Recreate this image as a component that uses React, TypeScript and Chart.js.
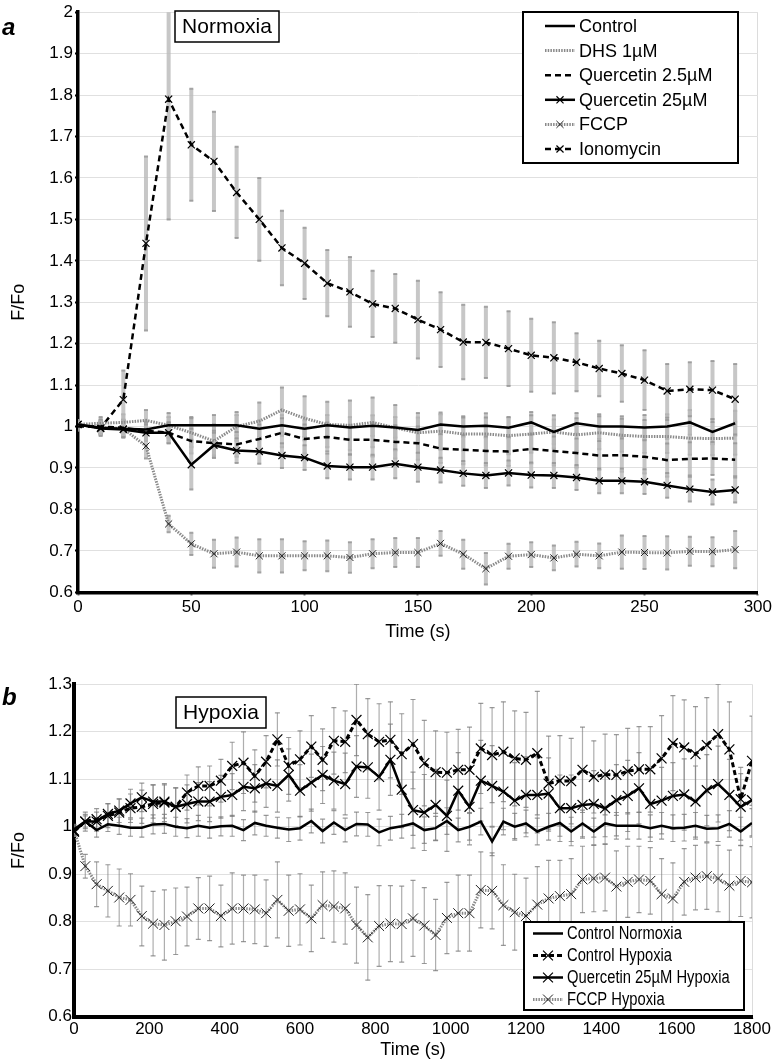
import React, { useEffect, useRef } from 'react';
import { Chart, registerables } from 'chart.js';

Chart.register(...registerables);

const FONT = "'Liberation Sans', Arial, sans-serif";

// ---------- Panel a (Normoxia) ----------
const timeA = [0, 10, 20, 30, 40, 50, 60, 70, 80, 90, 100, 110, 120, 130, 140, 150, 160, 170, 180, 190, 200, 210, 220, 230, 240, 250, 260, 270, 280, 290];
const controlA = [1.005, 0.997, 0.995, 0.993, 1.003, 1.003, 1.003, 1.003, 0.995, 1.003, 0.995, 1.003, 0.998, 1.002, 0.998, 0.992, 1.005, 1.0, 1.002, 0.997, 1.01, 0.987, 1.008, 1.0, 1.0, 0.998, 1.0, 1.01, 0.987, 1.008];
const dhsA = [1.005, 1.008, 1.01, 1.015, 1.003, 0.985, 0.965, 1.0, 1.013, 1.04, 1.02, 1.005, 1.003, 1.01, 0.997, 0.985, 0.989, 0.982, 0.982, 0.978, 0.982, 0.987, 0.98, 0.985, 0.979, 0.976, 0.976, 0.972, 0.971, 0.972];
const querc2A = [1.0, 1.0, 0.997, 0.99, 0.985, 0.965, 0.96, 0.957, 0.97, 0.985, 0.97, 0.975, 0.968, 0.968, 0.963, 0.96, 0.947, 0.944, 0.941, 0.94, 0.946, 0.941, 0.936, 0.93, 0.931, 0.927, 0.919, 0.922, 0.923, 0.92];
const querc25A = [1.005, 0.995, 0.993, 0.985, 0.985, 0.908, 0.955, 0.942, 0.94, 0.93, 0.925, 0.905, 0.902, 0.902, 0.91, 0.902, 0.895, 0.887, 0.882, 0.888, 0.883, 0.882, 0.877, 0.869, 0.869, 0.867, 0.858, 0.849, 0.842, 0.847];
const fccpA = [1.005, 0.997, 0.995, 0.953, 0.765, 0.717, 0.693, 0.697, 0.688, 0.688, 0.688, 0.688, 0.684, 0.693, 0.696, 0.696, 0.718, 0.692, 0.657, 0.687, 0.691, 0.683, 0.692, 0.688, 0.697, 0.696, 0.695, 0.699, 0.698, 0.703];
const ionoA = [1.005, 0.997, 1.065, 1.442, 1.79, 1.68, 1.64, 1.565, 1.5, 1.431, 1.394, 1.346, 1.325, 1.296, 1.285, 1.258, 1.234, 1.204, 1.203, 1.188, 1.172, 1.166, 1.155, 1.14, 1.128, 1.112, 1.086, 1.09, 1.088, 1.066];

const controlErrA = [0.01, 0.015, 0.02, 0.02, 0.02, 0.02, 0.025, 0.025, 0.02, 0.025, 0.02, 0.025, 0.025, 0.025, 0.025, 0.03, 0.025, 0.025, 0.03, 0.025, 0.025, 0.03, 0.025, 0.03, 0.025, 0.03, 0.03, 0.03, 0.03, 0.03];
const dhsErrA = [0.01, 0.015, 0.02, 0.025, 0.03, 0.035, 0.04, 0.035, 0.045, 0.054, 0.053, 0.055, 0.06, 0.06, 0.055, 0.048, 0.045, 0.04, 0.04, 0.045, 0.045, 0.04, 0.04, 0.04, 0.04, 0.04, 0.04, 0.04, 0.04, 0.04];
const querc2ErrA = [0.01, 0.015, 0.02, 0.02, 0.025, 0.03, 0.03, 0.03, 0.035, 0.035, 0.035, 0.035, 0.035, 0.04, 0.04, 0.04, 0.035, 0.035, 0.035, 0.035, 0.035, 0.035, 0.035, 0.035, 0.04, 0.04, 0.04, 0.04, 0.04, 0.04];
const querc25ErrA = [0.01, 0.015, 0.02, 0.02, 0.025, 0.06, 0.03, 0.03, 0.03, 0.03, 0.03, 0.03, 0.03, 0.03, 0.035, 0.035, 0.03, 0.03, 0.03, 0.03, 0.03, 0.03, 0.03, 0.03, 0.03, 0.03, 0.03, 0.03, 0.03, 0.03];
const fccpErrA = [0.01, 0.015, 0.02, 0.03, 0.02, 0.027, 0.034, 0.035, 0.04, 0.04, 0.035, 0.037, 0.037, 0.035, 0.035, 0.035, 0.03, 0.035, 0.038, 0.03, 0.03, 0.03, 0.03, 0.03, 0.04, 0.04, 0.04, 0.035, 0.035, 0.045];
const ionoErrA = [0.01, 0.02, 0.07, 0.21, 0.29, 0.135, 0.12, 0.11, 0.1, 0.09, 0.086, 0.08, 0.084, 0.08, 0.083, 0.094, 0.09, 0.09, 0.086, 0.09, 0.088, 0.086, 0.07, 0.067, 0.068, 0.072, 0.065, 0.065, 0.07, 0.085];

const labelsA = ['Control', 'DHS 1µM', 'Quercetin 2.5µM', 'Quercetin 25µM', 'FCCP', 'Ionomycin'];

// ---------- Panel b (Hypoxia) ----------
const timeB = [
  0, 30, 60, 90, 120, 150, 180, 210, 240, 270,
  300, 330, 360, 390, 420, 450, 480, 510, 540, 570,
  600, 630, 660, 690, 720, 750, 780, 810, 840, 870,
  900, 930, 960, 990, 1020, 1050, 1080, 1110, 1140, 1170,
  1200, 1230, 1260, 1290, 1320, 1350, 1380, 1410, 1440, 1470,
  1500, 1530, 1560, 1590, 1620, 1650, 1680, 1710, 1740, 1770,
  1800,
];
const controlNormB = [
  0.995, 1.011, 0.993, 1.005, 1.002, 0.998, 0.998, 1.005, 1.006, 1.0,
  0.997, 1.002, 0.998, 1.001, 1.002, 0.993, 1.008, 1.002, 0.998, 0.994,
  0.997, 1.012, 0.991, 1.009, 0.993, 1.006, 1.005, 0.988, 0.997, 1.001,
  1.007, 0.993, 0.997, 1.012, 0.993, 1.0, 1.011, 0.969, 1.011, 1.0,
  1.007, 0.99, 1.0, 1.008, 0.99, 1.007, 0.99, 1.007, 1.002, 1.002,
  1.002, 0.997, 1.002, 0.997, 0.998, 1.002, 0.996, 0.997, 1.006, 0.99,
  1.008,
];
const controlHypB = [
  0.99, 1.011, 1.016, 1.023, 1.03, 1.039, 1.042, 1.048, 1.051, 1.042,
  1.072, 1.086, 1.086, 1.097, 1.128, 1.135, 1.107, 1.137, 1.184, 1.128,
  1.142, 1.169, 1.141, 1.181, 1.179, 1.225, 1.195, 1.179, 1.183, 1.153,
  1.174, 1.134, 1.115, 1.114, 1.12, 1.12, 1.165, 1.151, 1.158, 1.144,
  1.141, 1.155, 1.091, 1.097, 1.096, 1.12, 1.105, 1.11, 1.109, 1.117,
  1.121, 1.121, 1.144, 1.176, 1.167, 1.153, 1.172, 1.195, 1.163, 1.058,
  1.139,
];
const querc25HypB = [
  0.99, 1.011, 1.011, 1.027, 1.034, 1.049, 1.062, 1.053, 1.053, 1.042,
  1.048, 1.053, 1.053, 1.063, 1.067, 1.084, 1.081, 1.091, 1.086, 1.109,
  1.076, 1.093, 1.109, 1.097, 1.09, 1.127, 1.125, 1.105, 1.141, 1.078,
  1.035, 1.03, 1.046, 1.023, 1.076, 1.042, 1.097, 1.086, 1.074, 1.055,
  1.067, 1.067, 1.07, 1.039, 1.039, 1.046, 1.048, 1.039, 1.056, 1.065,
  1.081, 1.048, 1.055, 1.065, 1.068, 1.053, 1.077, 1.09, 1.067, 1.042,
  1.056,
];
const fccpHypB = [
  0.993, 0.917, 0.879, 0.865, 0.851, 0.846, 0.812, 0.796, 0.793, 0.801,
  0.811, 0.828, 0.828, 0.812, 0.828, 0.828, 0.826, 0.818, 0.846, 0.823,
  0.826, 0.807, 0.835, 0.832, 0.828, 0.793, 0.767, 0.791, 0.796, 0.795,
  0.807, 0.792, 0.772, 0.808, 0.818, 0.818, 0.867, 0.865, 0.835, 0.82,
  0.812, 0.836, 0.849, 0.854, 0.858, 0.889, 0.891, 0.893, 0.874, 0.884,
  0.889, 0.886, 0.858, 0.849, 0.884, 0.893, 0.896, 0.891, 0.876, 0.886,
  0.883,
];

const controlNormErrB = [
  0.01, 0.012, 0.015, 0.015, 0.018, 0.018, 0.02, 0.02, 0.02, 0.02,
  0.02, 0.022, 0.022, 0.02, 0.022, 0.022, 0.025, 0.022, 0.022, 0.025,
  0.025, 0.025, 0.025, 0.025, 0.025, 0.025, 0.025, 0.028, 0.025, 0.025,
  0.025, 0.028, 0.025, 0.028, 0.025, 0.028, 0.028, 0.03, 0.028, 0.028,
  0.028, 0.028, 0.028, 0.028, 0.03, 0.028, 0.028, 0.028, 0.028, 0.028,
  0.028, 0.028, 0.028, 0.028, 0.028, 0.028, 0.028, 0.028, 0.028, 0.03,
  0.03,
];
const controlHypErrB = [
  0.01, 0.02, 0.022, 0.025, 0.028, 0.03, 0.035, 0.04, 0.04, 0.04,
  0.037, 0.04, 0.042, 0.045, 0.05, 0.065, 0.055, 0.055, 0.056, 0.06,
  0.06, 0.065, 0.065, 0.07, 0.065, 0.075, 0.075, 0.08, 0.08, 0.085,
  0.094, 0.09, 0.087, 0.085, 0.085, 0.09, 0.095, 0.1, 0.105, 0.1,
  0.1, 0.13, 0.1, 0.095, 0.09, 0.09, 0.076, 0.085, 0.085, 0.09,
  0.09, 0.09, 0.09, 0.1, 0.1, 0.1, 0.1, 0.105, 0.1, 0.067,
  0.094,
];
const querc25HypErrB = [
  0.01, 0.015, 0.02, 0.022, 0.025, 0.03, 0.03, 0.035, 0.035, 0.04,
  0.04, 0.04, 0.042, 0.045, 0.045, 0.05, 0.05, 0.05, 0.055, 0.055,
  0.055, 0.06, 0.06, 0.06, 0.065, 0.065, 0.065, 0.07, 0.075, 0.08,
  0.08, 0.08, 0.075, 0.075, 0.08, 0.08, 0.085, 0.085, 0.08, 0.08,
  0.08, 0.08, 0.075, 0.07, 0.07, 0.07, 0.07, 0.075, 0.075, 0.075,
  0.075, 0.07, 0.07, 0.07, 0.075, 0.075, 0.075, 0.08, 0.075, 0.07,
  0.075,
];
const fccpHypErrB = [
  0.01, 0.025, 0.047, 0.055, 0.06, 0.055, 0.063, 0.068, 0.074, 0.07,
  0.062, 0.065, 0.068, 0.065, 0.075, 0.07, 0.072, 0.07, 0.08, 0.075,
  0.075, 0.07, 0.07, 0.075, 0.075, 0.08, 0.09, 0.085, 0.08, 0.08,
  0.08, 0.08, 0.075, 0.075, 0.08, 0.08, 0.08, 0.08, 0.085, 0.08,
  0.08, 0.08, 0.08, 0.075, 0.075, 0.07, 0.07, 0.07, 0.075, 0.075,
  0.07, 0.07, 0.075, 0.075, 0.07, 0.068, 0.07, 0.07, 0.075, 0.075,
  0.075,
];

const labelsB = ['Control Normoxia', 'Control Hypoxia', 'Quercetin 25µM Hypoxia', 'FCCP Hypoxia'];

const xTicksA = { min: 0, max: 300, step: 50 };
const yTicksA = { min: 0.6, max: 2, step: 0.1 };
const xTicksB = { min: 0, max: 1800, step: 200 };
const yTicksB = { min: 0.6, max: 1.3, step: 0.1 };

const toXY = (xs: number[], ys: number[]) => xs.map((x, i) => ({ x, y: ys[i] }));

// ---------- plugins ----------
const errorBarPlugin = {
  id: 'errorBars',
  beforeDatasetsDraw(chart: any, _args: any, opts: any) {
    const { ctx, chartArea } = chart;
    const xs = chart.scales.x;
    const ys = chart.scales.y;
    ctx.save();
    ctx.beginPath();
    ctx.rect(chartArea.left, chartArea.top, chartArea.right - chartArea.left, chartArea.bottom - chartArea.top);
    ctx.clip();
    chart.data.datasets.forEach((ds: any) => {
      if (!ds.errors) return;
      ds.data.forEach((p: any, i: number) => {
        const e = ds.errors[i];
        if (!e) return;
        const x = xs.getPixelForValue(p.x);
        const y1 = ys.getPixelForValue(p.y + e);
        const y2 = ys.getPixelForValue(p.y - e);
        ctx.strokeStyle = opts.color;
        ctx.lineWidth = opts.width;
        ctx.beginPath();
        ctx.moveTo(x, y1);
        ctx.lineTo(x, y2);
        ctx.stroke();
        ctx.strokeStyle = opts.capColor;
        ctx.lineWidth = opts.capThickness;
        [y1, y2].forEach((y) => {
          ctx.beginPath();
          ctx.moveTo(x - opts.capWidth / 2, y);
          ctx.lineTo(x + opts.capWidth / 2, y);
          ctx.stroke();
        });
      });
    });
    ctx.restore();
  },
};

function drawCross(ctx: CanvasRenderingContext2D, x: number, y: number, r: number) {
  const d = r * Math.SQRT1_2;
  ctx.beginPath();
  ctx.moveTo(x - d, y - d);
  ctx.lineTo(x + d, y + d);
  ctx.moveTo(x + d, y - d);
  ctx.lineTo(x - d, y + d);
  ctx.stroke();
}

const annotPlugin = {
  id: 'annot',
  afterDraw(chart: any, _args: any, o: any) {
    const ctx: CanvasRenderingContext2D = chart.ctx;
    ctx.save();
    // panel letter
    ctx.fillStyle = '#000';
    ctx.font = `italic bold ${o.letter.size}px ${FONT}`;
    ctx.textAlign = 'left';
    ctx.textBaseline = 'alphabetic';
    ctx.fillText(o.letter.text, o.letter.x, o.letter.y);
    // condition box
    const b = o.box;
    ctx.fillStyle = '#fff';
    ctx.fillRect(b.x, b.y, b.w, b.h);
    ctx.strokeStyle = '#000';
    ctx.lineWidth = 1.5;
    ctx.strokeRect(b.x, b.y, b.w, b.h);
    ctx.fillStyle = '#000';
    ctx.font = `${b.size}px ${FONT}`;
    ctx.textAlign = 'center';
    ctx.textBaseline = 'middle';
    ctx.fillText(b.text, b.x + b.w / 2, b.y + b.h / 2 + 1);
    // legend
    const L = o.legend;
    ctx.fillStyle = '#fff';
    ctx.fillRect(L.x, L.y, L.w, L.h);
    ctx.strokeStyle = '#000';
    ctx.lineWidth = 2;
    ctx.strokeRect(L.x, L.y, L.w, L.h);
    chart.data.datasets.forEach((ds: any, i: number) => {
      const cy = L.y + L.first + i * L.row;
      ctx.save();
      ctx.strokeStyle = ds.borderColor;
      ctx.lineWidth = ds.borderWidth;
      ctx.setLineDash(ds.borderDash || []);
      ctx.beginPath();
      ctx.moveTo(L.x + L.s1, cy);
      ctx.lineTo(L.x + L.s2, cy);
      ctx.stroke();
      ctx.restore();
      if (ds.pointRadius > 0) {
        ctx.save();
        ctx.strokeStyle = ds.pointBorderColor;
        ctx.lineWidth = ds.pointBorderWidth;
        drawCross(ctx, L.x + (L.s1 + L.s2) / 2, cy, ds.pointRadius);
        ctx.restore();
      }
      ctx.save();
      ctx.fillStyle = '#000';
      ctx.font = `${L.size}px ${FONT}`;
      ctx.textAlign = 'left';
      ctx.textBaseline = 'middle';
      ctx.translate(L.x + L.tx, cy + 1);
      ctx.scale(L.sx, 1);
      ctx.fillText(ds.label, 0, 0);
      ctx.restore();
    });
    ctx.restore();
  },
};

// ---------- configs ----------
function axisCommon(r: any, tickLen: number, pad: number, lastX: number | null, isX: boolean, titleText: string, titlePad: any, fitSize: number, borderW: number) {
  return {
    type: 'linear',
    min: r.min,
    max: r.max,
    ticks: {
      stepSize: r.step,
      color: '#000',
      font: { family: FONT, size: 17 },
      padding: pad,
      maxRotation: 0,
      autoSkip: false,
      callback: (v: number) => String(Math.round(v * 10) / 10),
    },
    grid: {
      color: isX
        ? (c: any) => (c.tick && c.tick.value === lastX ? '#dcdcdc' : 'rgba(0,0,0,0)')
        : '#e0e0e0',
      lineWidth: 1,
      tickColor: '#000',
      tickLength: tickLen,
      tickWidth: 2,
    },
    border: { color: '#000', width: borderW },
    title: {
      display: true,
      text: titleText,
      color: '#000',
      font: { family: FONT, size: 18 },
      padding: titlePad,
    },
    afterFit: (s: any) => {
      if (isX) s.height = fitSize;
      else s.width = fitSize;
    },
  };
}

function configA() {
  const mk = (i: number, ys: number[], errs: number[], style: any) => ({
    label: labelsA[i],
    data: toXY(timeA, ys),
    errors: errs,
    tension: 0,
    fill: false,
    pointHoverRadius: 0,
    borderDash: [],
    pointRadius: 0,
    ...style,
  });
  const cross = { pointStyle: 'crossRot', pointRadius: 5, pointBorderColor: '#000', pointBorderWidth: 1.2 };
  return {
    type: 'line',
    data: {
      datasets: [
        mk(0, controlA, controlErrA, { borderColor: '#000', borderWidth: 2.5 }),
        mk(1, dhsA, dhsErrA, { borderColor: '#8a8a8a', borderWidth: 3, borderDash: [1.5, 1.2] }),
        mk(2, querc2A, querc2ErrA, { borderColor: '#000', borderWidth: 2.5, borderDash: [6, 4] }),
        mk(3, querc25A, querc25ErrA, { borderColor: '#000', borderWidth: 2.5, ...cross }),
        mk(4, fccpA, fccpErrA, { borderColor: '#8a8a8a', borderWidth: 3, borderDash: [1.5, 1.2], ...cross, pointBorderColor: '#222', pointBorderWidth: 1 }),
        mk(5, ionoA, ionoErrA, { borderColor: '#000', borderWidth: 2.5, borderDash: [6, 4], ...cross }),
      ],
    },
    options: {
      animation: false,
      responsive: false,
      devicePixelRatio: 1,
      events: [],
      layout: { padding: { top: 7, right: 16, left: 0, bottom: 0 } },
      scales: {
        x: axisCommon(xTicksA, 3, 2, 300, true, 'Time (s)', { top: 0, bottom: 7 }, 57.7, 3.5),
        y: axisCommon(yTicksA, 3, 2, null, false, 'F/Fo', { top: 8, bottom: 0 }, 78, 3.5),
      },
      plugins: {
        legend: { display: false },
        tooltip: { enabled: false },
        errorBars: { color: 'rgba(185,185,185,0.8)', width: 4, capColor: 'rgba(150,150,150,0.85)', capWidth: 4, capThickness: 2 },
        annot: {
          letter: { text: 'a', x: 2, y: 35, size: 24 },
          box: { text: 'Normoxia', x: 175, y: 11, w: 104, h: 31, size: 21 },
          legend: { x: 523, y: 12, w: 215, h: 151, first: 14, row: 24.6, s1: 22, s2: 52, tx: 56, size: 18, sx: 1 },
        },
      },
    },
    plugins: [errorBarPlugin, annotPlugin],
  };
}

function configB() {
  const mk = (i: number, ys: number[], errs: number[], style: any) => ({
    label: labelsB[i],
    data: toXY(timeB, ys),
    errors: errs,
    tension: 0,
    fill: false,
    pointHoverRadius: 0,
    borderDash: [],
    pointRadius: 0,
    ...style,
  });
  const cross = { pointStyle: 'crossRot', pointRadius: 7, pointBorderColor: '#000', pointBorderWidth: 1.2 };
  return {
    type: 'line',
    data: {
      datasets: [
        mk(0, controlNormB, controlNormErrB, { borderColor: '#000', borderWidth: 2.5 }),
        mk(1, controlHypB, controlHypErrB, { borderColor: '#000', borderWidth: 3, borderDash: [5, 3], ...cross }),
        mk(2, querc25HypB, querc25HypErrB, { borderColor: '#000', borderWidth: 2.5, ...cross }),
        mk(3, fccpHypB, fccpHypErrB, { borderColor: '#8a8a8a', borderWidth: 3, borderDash: [1.5, 1.2], ...cross, pointBorderColor: '#222', pointBorderWidth: 1 }),
      ],
    },
    options: {
      animation: false,
      responsive: false,
      devicePixelRatio: 1,
      events: [],
      layout: { padding: { top: 34.3, right: 22, left: 0, bottom: 0 } },
      scales: {
        x: axisCommon(xTicksB, 2, 0, 1800, true, 'Time (s)', { top: 0, bottom: 1 }, 45.3, 4),
        y: axisCommon(yTicksB, 2, 0, null, false, 'F/Fo', { top: 8, bottom: 0 }, 74, 4),
      },
      plugins: {
        legend: { display: false },
        tooltip: { enabled: false },
        errorBars: { color: 'rgba(120,120,120,0.6)', width: 1.2, capColor: 'rgba(120,120,120,0.75)', capWidth: 5, capThickness: 1.2 },
        annot: {
          letter: { text: 'b', x: 2, y: 55, size: 24 },
          box: { text: 'Hypoxia', x: 176, y: 47, w: 90, h: 31, size: 21 },
          legend: { x: 524, y: 272, w: 220, h: 88, first: 11.5, row: 22, s1: 9, s2: 39, tx: 43, size: 18, sx: 0.82 },
        },
      },
    },
    plugins: [errorBarPlugin, annotPlugin],
  };
}

function ChartCanvas({ make, top, height }: { make: () => any; top: number; height: number }) {
  const ref = useRef<HTMLCanvasElement>(null);
  useEffect(() => {
    const chart = new Chart(ref.current as HTMLCanvasElement, make());
    return () => chart.destroy();
  }, []);
  return (
    <canvas
      ref={ref}
      width={774}
      height={height}
      style={{ position: 'absolute', left: 0, top, width: 774, height, display: 'block' }}
    />
  );
}

export default function App() {
  return (
    <div style={{ position: 'absolute', left: 0, top: 0, width: 774, height: 1062, background: '#fff' }}>
      <ChartCanvas make={configA} top={0} height={650} />
      <ChartCanvas make={configB} top={650} height={412} />
    </div>
  );
}
